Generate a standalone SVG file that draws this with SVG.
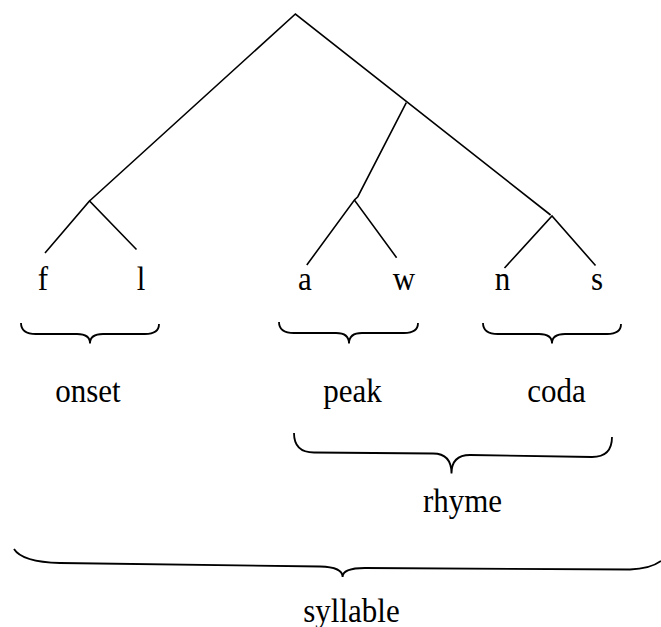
<svg xmlns="http://www.w3.org/2000/svg" width="661" height="627" viewBox="0 0 661 627">
<style>
.e{stroke:#000;stroke-width:1.6;fill:none;stroke-linecap:butt}
.b{stroke:#000;stroke-width:1.8;fill:none}
text{font-family:"Liberation Serif","Times New Roman",serif;font-size:31px;fill:#000;text-anchor:middle}
</style>
<rect width="661" height="627" fill="#fff"/>
<g id="connectors">
<path class="e" d="M89.5,201 L295.4,14 L550.6,215"/>
<path class="e" d="M406.3,102.7 L357.8,196.7 L354.4,200"/>
<path class="e" d="M45,253 L89.5,201 L136.5,249.5"/>
<path class="e" d="M306.8,265 L354.4,200 L396.6,257.7"/>
<path class="e" d="M504.5,268 L552,216 L595.5,265.5"/>
</g>
<g id="leaf-f"><text transform="translate(43,290) scale(1,1.08)">f</text></g>
<g id="leaf-l"><text transform="translate(141,290) scale(1,1.08)">l</text></g>
<g id="leaf-a"><text transform="translate(305,290) scale(1,1.08)">a</text></g>
<g id="leaf-w"><text transform="translate(404,290) scale(1,1.08)">w</text></g>
<g id="leaf-n"><text transform="translate(502.5,290) scale(1,1.08)">n</text></g>
<g id="leaf-s"><text transform="translate(597,290) scale(1,1.08)">s</text></g>
<g id="onset">
<path class="b" d="M21,323 Q21,334 36,334 L77,334 Q90,334 90,343.5 Q90,334 103,334 L145,334 Q159,334 159,324"/>
<text transform="translate(88,402) scale(1,1.08)">onset</text>
</g>
<g id="peak">
<path class="b" d="M279,322 Q279,333 294,333 L336,333 Q349,333 349,343.5 Q349,333 362,333 L404,333 Q418,333 418,323"/>
<text transform="translate(352.5,402) scale(1,1.08)">peak</text>
</g>
<g id="coda">
<path class="b" d="M483,323 Q483,334 498,334 L539,334 Q552,334 552,343.5 Q552,334 565,334 L607,334 Q621,334 621,324"/>
<text transform="translate(556.5,402) scale(1,1.08)">coda</text>
</g>
<g id="rhyme">
<path class="b" d="M294,433 Q294,452.5 314,452.5 L433,453.5 Q451.5,453.5 451.5,473.5 Q451.5,455 470,455 L592,457 Q612,457 612,437"/>
<text transform="translate(462.5,512) scale(1,1.08)">rhyme</text>
</g>
<g id="syllable">
<path class="b" d="M14,549 Q22,562 60,563 L320,566.5 Q342.6,567 342.6,577 Q342.6,568 365,568 L630,569.5 Q650,569 661,561"/>
<text transform="translate(351.5,622) scale(1,1.08)">syllable</text>
</g>
</svg>
